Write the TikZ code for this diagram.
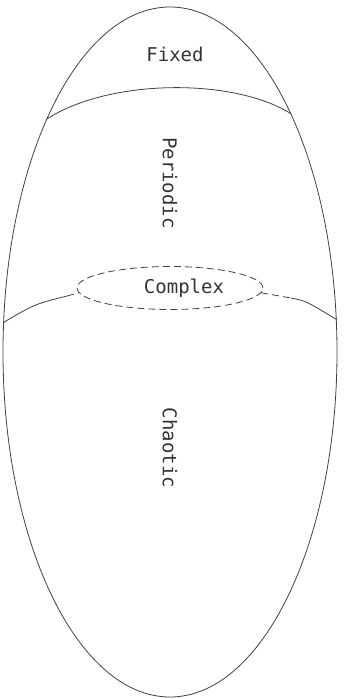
\documentclass[tikz,border=0pt]{standalone}
\usepackage{fontspec}
\newfontfamily\plotfont{DejaVu Sans Mono}
\usetikzlibrary{shapes.geometric, calc}

\tikzset{
  regionlabel/.style={font=\plotfont\fontsize{19}{19}\selectfont, text=black!80, inner sep=0pt},
  boundary/.style={draw=black!75, line width=0.8pt},
  fuzzy/.style={boundary, dash pattern=on 7pt off 4pt}
}

\begin{document}
\begin{tikzpicture}[x=1pt, y=-1pt]
\useasboundingbox (0,0) rectangle (348,699);

% whole rule space
\node[ellipse, boundary, minimum width=334pt, minimum height=690pt, inner sep=0pt] (space) at (170,352) {};

% fixed / periodic border
\draw[boundary] (space.118) .. controls (110,78) and (235,78) .. (space.63);

% complex region in the middle
\node[ellipse, fuzzy, minimum width=186pt, minimum height=43pt, inner sep=0pt] (complex) at (170,288) {};
\coordinate (leftjoin) at (67,296);
\coordinate (rightjoin) at (291,298);

\draw[boundary] (space.170) .. controls (35,304) .. (leftjoin);
\draw[fuzzy] (leftjoin) -- (complex.183);
\draw[fuzzy] (complex.357) -- (rightjoin);
\draw[boundary] (rightjoin) .. controls (306,301) .. (space.11.6);

% region names
\node[regionlabel] (fixed) at (175,54) {Fixed};
\node[regionlabel, rotate=-90] (periodic) at (170,183) {Periodic};
\node[regionlabel] (complexlbl) at (184,288) {Complex};
\node[regionlabel, rotate=-90] (chaotic) at (170,448) {Chaotic};
\end{tikzpicture}
\end{document}
